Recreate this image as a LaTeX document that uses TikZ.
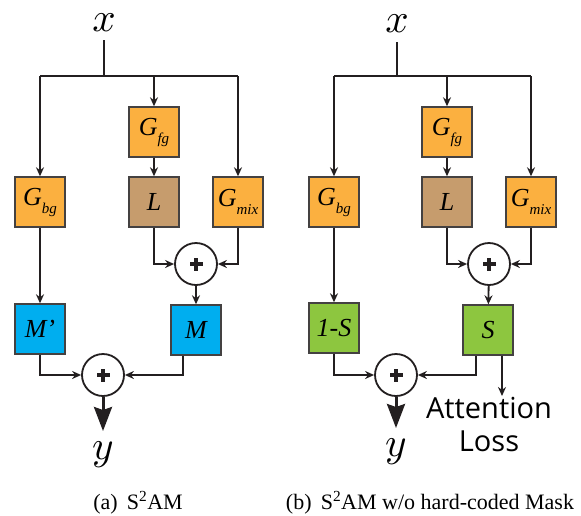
\documentclass[tikz,border=0pt]{standalone}
\usepackage{fontspec}
\setmainfont{Liberation Serif}
\newfontfamily\attfont{Open Sans}
\usetikzlibrary{arrows.meta,calc}
\definecolor{gorange}{HTML}{FBB040}
\definecolor{gtan}{HTML}{C69C6D}
\definecolor{gblue}{HTML}{00AEEF}
\definecolor{ggreen}{HTML}{8DC63F}
\definecolor{lineg}{HTML}{231F20}
\tikzset{
  blk/.style={draw=lineg!85, line width=1.4pt, minimum width=50pt, minimum height=50pt, inner sep=0pt,
     font=\fontsize{26}{26}\selectfont\itshape},
  org/.style={blk, fill=gorange},
  tanb/.style={blk, fill=gtan},
  blu/.style={blk, fill=gblue},
  grn/.style={blk, fill=ggreen},
  plusc/.style={circle, draw=lineg, line width=1.8pt, minimum size=42pt, inner sep=0pt, fill=white},
  conn/.style={draw=lineg, line width=1.8pt, -{Stealth[length=9pt,width=8pt]}},
  bigout/.style={draw=lineg, line width=3pt, -{Stealth[length=24pt,width=18pt,inset=3pt]}},
  plain/.style={draw=lineg, line width=1.8pt},
  varlab/.style={inner sep=0pt},
  caplab/.style={font=\fontsize{22}{22}\selectfont, inner sep=0pt, anchor=base},
}
\newcommand{\plussign}[1]{\fill[lineg] ($(#1)+(-6.5,-1.8)$) rectangle ($(#1)+(6.5,1.8)$); \fill[lineg] ($(#1)+(-1.8,-6.5)$) rectangle ($(#1)+(1.8,6.5)$);}
\newcommand{\bigvar}[1]{\scalebox{4.1}{$#1$}}
\begin{document}
\begin{tikzpicture}[x=1pt,y=-1pt]
\useasboundingbox (0,0) rectangle (581,515);
% ===== left panel =====
\node[varlab] (xa) at (104,23) {\bigvar{x}};
\coordinate (ba) at (104,76);
\coordinate (bla) at (40,76);
\coordinate (bma) at (154,76);
\coordinate (bra) at (238,76);
\node[org] (gfga) at (154,132) {G\raisebox{-8pt}{\fontsize{15}{15}\selectfont fg}};
\node[org] (gbga) at (40,202) {G\raisebox{-8pt}{\fontsize{15}{15}\selectfont bg}};
\node[tanb] (la) at (154,202) {L};
\node[org] (gmixa) at (238,202) {G\raisebox{-8pt}{\fontsize{15}{15}\selectfont mix}};
\node[plusc] (p1a) at (196,264) {};
\plussign{p1a}
\node[blu] (ma) at (196,330) {M};
\node[blu] (mpa) at (40,329) {M’};
\node[plusc] (p2a) at (103,375) {};
\plussign{p2a}
\node[varlab] (ya) at (103,455) {\bigvar{y}};
\coordinate (yta) at (103,431);
\draw[plain] (104,40) -- (ba);
\draw[plain] (bla) -- (bra);
\draw[conn] (bla) -- (gbga);
\draw[conn] (bma) -- (gfga);
\draw[conn] (bra) -- (gmixa);
\draw[conn] (gfga) -- (la);
\draw[conn] (la) |- (p1a);
\draw[conn] (gmixa) |- (p1a);
\draw[conn] (p1a) -- (ma);
\draw[conn] (gbga) -- (mpa);
\draw[conn] (mpa) |- (p2a);
\draw[conn] ([xshift=-13pt]ma.south) |- (p2a);
\draw[bigout] (p2a) -- (yta);
\node[caplab] (capa) at (138,509) {(a)\, S\textsuperscript{2}AM};
% ===== right panel =====
\node[varlab] (xb) at (397,24) {\bigvar{x}};
\coordinate (bb) at (397,76);
\coordinate (blb) at (334,76);
\coordinate (bmb) at (447,76);
\coordinate (brb) at (531,76);
\node[org] (gfgb) at (447,132) {G\raisebox{-8pt}{\fontsize{15}{15}\selectfont fg}};
\node[org] (gbgb) at (334,202) {G\raisebox{-8pt}{\fontsize{15}{15}\selectfont bg}};
\node[tanb] (lb) at (447,202) {L};
\node[org] (gmixb) at (531,202) {G\raisebox{-8pt}{\fontsize{15}{15}\selectfont mix}};
\node[plusc] (p1b) at (489,264) {};
\plussign{p1b}
\node[grn] (sb) at (488,330) {S};
\node[grn] (isb) at (334,328) {1-S};
\node[plusc] (p2b) at (396,375) {};
\plussign{p2b}
\node[varlab] (yb) at (396,452) {\bigvar{y}};
\coordinate (ytb) at (396,428);
\coordinate (attb) at (502,396);
\node[font=\attfont\fontsize{29}{33}\selectfont, align=center, inner sep=0pt, anchor=north] (att) at (489,397) {Attention\\Loss};
\draw[plain] (397,42) -- (bb);
\draw[plain] (blb) -- (brb);
\draw[conn] (blb) -- (gbgb);
\draw[conn] (bmb) -- (gfgb);
\draw[conn] (brb) -- (gmixb);
\draw[conn] (gfgb) -- (lb);
\draw[conn] (lb) |- (p1b);
\draw[conn] (gmixb) |- (p1b);
\draw[conn] (p1b) -- (sb);
\draw[conn] (gbgb) -- (isb);
\draw[conn] (isb) |- (p2b);
\draw[conn] ([xshift=-12pt]sb.south) |- (p2b);
\draw[conn] ([xshift=14pt]sb.south) -- (attb);
\draw[bigout] (p2b) -- (ytb);
\node[caplab] (capb) at (430,509) {(b)\, S\textsuperscript{2}AM w/o hard-coded Mask};
\end{tikzpicture}
\end{document}
